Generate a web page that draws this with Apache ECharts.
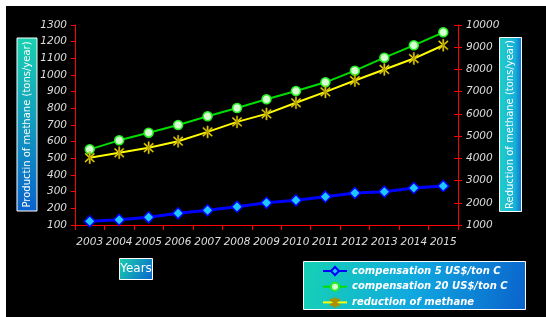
<!DOCTYPE html>
<html><head><meta charset="utf-8">
<script src="https://cdn.jsdelivr.net/npm/echarts@6/dist/echarts.min.js"></script>
<style>html,body{margin:0;padding:0;background:#fff}#c{width:546px;height:317px}</style>
</head><body><div id="c"></div>
<script>
const years = ['2003','2004','2005','2006','2007','2008','2009','2010','2011','2012','2013','2014','2015'];
const comp5 = [122,132,146,170,188,210,233,248,270,292,300,322,334];
const comp20 = [554,608,654,700,752,802,854,904,956,1026,1104,1178,1256];
const reduction = [4030,4250,4480,4770,5190,5640,6000,6500,6990,7500,8000,8490,9090];
const leftTicks = {min:100, max:1300, interval:100};
const rightTicks = {min:1000, max:10000, interval:1000};

const chart = echarts.init(document.getElementById('c'));
const G = echarts.graphic;
const font = 'DejaVu Sans';
const asterisk = 'path://M-1,-10L1,-10L1,10L-1,10Z M-7.7,-6.3L-6.3,-7.7L7.7,6.3L6.3,7.7Z M6.3,-7.7L7.7,-6.3L-6.3,7.7L-7.7,6.3Z';
function boxGrad(x0,y0,x1,y1){return new G.LinearGradient(x0,y0,x1,y1,[{offset:0,color:'#19d2b0'},{offset:1,color:'#0a62cc'}]);}
const plain = v => String(v);
const yLabel = {color:'#dedede', fontFamily:font, fontStyle:'italic', fontSize:10.5, formatter:plain};
chart.setOption({
  backgroundColor:'#ffffff',
  animation:false,
  graphic:[
    {type:'rect', z:-10, shape:{x:6,y:6,width:540,height:311}, style:{fill:'#000'}},
    {type:'rect', z:1, shape:{x:17,y:38,width:20,height:173}, style:{fill:boxGrad(0,0,0,1), stroke:'#fff', lineWidth:1}},
    {type:'text', z:2, x:27, y:124.5, rotation:Math.PI/2, style:{text:'Productin of methane (tons/year)', fill:'#fff', font:'10px "DejaVu Sans"', align:'center', verticalAlign:'middle'}},
    {type:'rect', z:1, shape:{x:499.5,y:37.5,width:22,height:174}, style:{fill:new G.LinearGradient(0,0,1,0,[{offset:0,color:'#20d0c8'},{offset:0.7,color:'#18b0d8'},{offset:1,color:'#0a70d0'}]), stroke:'#fff', lineWidth:1}},
    {type:'text', z:2, x:510.5, y:124.5, rotation:Math.PI/2, style:{text:'Reduction of methane (tons/year)', fill:'#fff', font:'10px "DejaVu Sans"', align:'center', verticalAlign:'middle'}},
    {type:'rect', z:1, shape:{x:119.5,y:258.5,width:33,height:21}, style:{fill:boxGrad(0,0,1,1), stroke:'#fff', lineWidth:1}},
    {type:'text', z:2, x:136, y:269, style:{text:'Years', fill:'#fff', font:'12px "DejaVu Sans"', align:'center', verticalAlign:'middle'}},
    {type:'rect', z:1, shape:{x:303.5,y:261.5,width:222,height:48}, style:{fill:new G.LinearGradient(0,0,1,1,[{offset:0,color:'#16d2b4'},{offset:0.5,color:'#10a8e0'},{offset:1,color:'#0a62cc'}]), stroke:'#fff', lineWidth:1}}
  ],
  grid:{left:75, right:88, top:25, bottom:92},
  legend:{
    z:10, orient:'vertical', left:317, top:261, itemWidth:24, itemHeight:10, itemGap:5.7,
    textStyle:{color:'#fff', fontFamily:font, fontStyle:'italic', fontWeight:'bold', fontSize:10},
    data:['compensation 5 US$/ton C','compensation 20 US$/ton C','reduction of methane']
  },
  xAxis:{
    type:'category', data:years, boundaryGap:true,
    axisLine:{lineStyle:{color:'#ff0000', width:1}},
    axisTick:{show:true, length:5, lineStyle:{color:'#ff0000'}},
    axisLabel:{color:'#dedede', fontFamily:font, fontStyle:'italic', fontSize:10.5, margin:12, interval:0}
  },
  yAxis:[
    {type:'value', position:'left', min:leftTicks.min, max:leftTicks.max, interval:leftTicks.interval,
     axisLine:{show:true, lineStyle:{color:'#ff0000'}}, axisTick:{show:true, length:4, lineStyle:{color:'#ff0000'}},
     splitLine:{show:false}, axisLabel:Object.assign({margin:8}, yLabel)},
    {type:'value', position:'right', min:rightTicks.min, max:rightTicks.max, interval:rightTicks.interval,
     axisLine:{show:true, lineStyle:{color:'#ff0000'}}, axisTick:{show:true, length:4, lineStyle:{color:'#ff0000'}},
     splitLine:{show:false}, axisLabel:Object.assign({margin:8}, yLabel)},
    {type:'value', position:'right', min:rightTicks.min, max:rightTicks.max, interval:rightTicks.interval,
     axisLine:{show:false}, axisTick:{show:true, inside:true, length:4, lineStyle:{color:'#ff0000'}},
     splitLine:{show:false}, axisLabel:{show:false}}
  ],
  series:[
    {name:'compensation 5 US$/ton C', type:'line', yAxisIndex:0, data:comp5, symbol:'diamond', symbolSize:11,
     lineStyle:{color:'#0000ff', width:3}, itemStyle:{color:'#1ec8ff', borderColor:'#0000ff', borderWidth:1.5}, z:3},
    {name:'compensation 20 US$/ton C', type:'line', yAxisIndex:0, data:comp20, symbol:'circle', symbolSize:9,
     lineStyle:{color:'#00dd00', width:2}, itemStyle:{color:'#d6ffd0', borderColor:'#22ee22', borderWidth:1.5}, z:3},
    {name:'reduction of methane', type:'line', yAxisIndex:1, data:reduction, symbol:asterisk, symbolSize:[10,12],
     lineStyle:{color:'#ffff00', width:2}, itemStyle:{color:'#ffee00', borderColor:'#a89000', borderWidth:0.6}, z:3}
  ]
});
</script></body></html>
